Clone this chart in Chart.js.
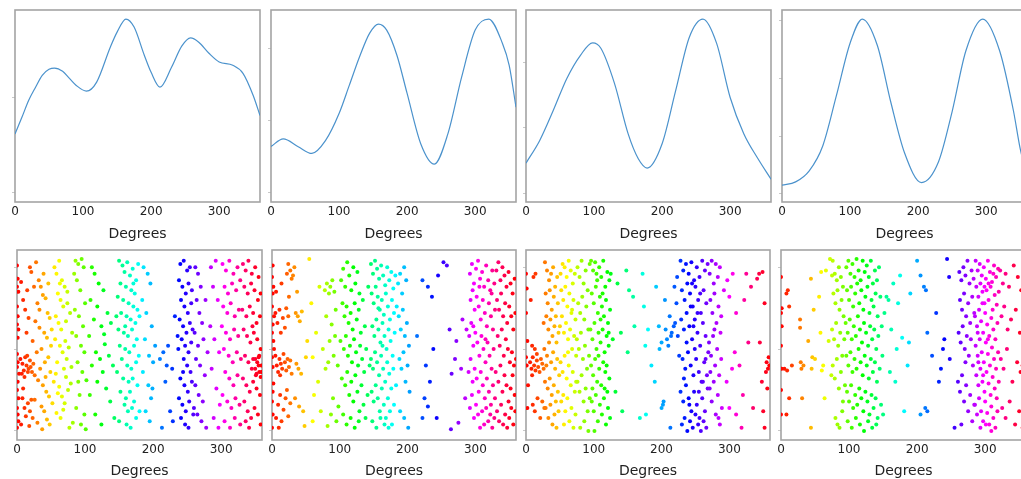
<!DOCTYPE html>
<html><head><meta charset="utf-8">
<script src="https://cdn.jsdelivr.net/npm/chart.js@4.4.0/dist/chart.umd.min.js"></script>
<style>
html,body{margin:0;padding:0;background:#fff;overflow:hidden;width:1021px;height:479px;position:relative;}
canvas{position:absolute;}
</style></head><body>
<script>
// ---------- top row: smoothed density curves (density x 1000) ----------
const kdeDeg1 = [0,10,20,30,40,50,58,70,80,90,105,120,140,150,163,175,190,200,213,230,245,258,270,285,300,320,335,350,360];
const kdeVal1 = [2.618,2.789,2.968,3.105,3.232,3.295,3.308,3.274,3.2,3.126,3.066,3.161,3.526,3.684,3.821,3.737,3.442,3.263,3.108,3.316,3.537,3.624,3.579,3.463,3.372,3.337,3.253,3.021,2.811];
const kdeDeg2 = [0,18,40,60,80,100,115,130,145,158,170,185,200,220,240,260,280,300,320,340,350,360];
const kdeVal2 = [3.286,3.492,3.278,3.092,3.444,4.194,4.972,5.758,6.417,6.667,6.5,5.806,4.75,3.361,2.797,3.639,5.194,6.5,6.806,6.139,5.528,4.369];
const kdeDeg3 = [0,20,40,60,80,98,110,130,150,165,178,200,220,240,260,280,300,320,340,360];
const kdeVal3 = [2.462,2.805,3.266,3.758,4.112,4.302,4.22,3.682,2.912,2.528,2.385,2.758,3.574,4.389,4.666,4.298,3.466,2.912,2.543,2.215];
const kdeDeg4 = [0,20,40,60,80,100,118,140,160,180,205,230,250,270,295,320,340,350,360];
const kdeVal4 = [2.147,2.204,2.396,2.832,3.704,4.611,5.03,4.576,3.582,2.71,2.192,2.553,3.425,4.472,5.03,4.472,3.443,2.78,2.309];

const xTickLabels = [0,100,200,300];
const yTicksTop = [[2,3],[2,4,6],[2,3,4],[2,3,4,5]];
const yTicksBottom = [0,50,100];

// ---------- bottom row: scatter of [degrees, jitter %] ----------
const scatter1 = [
[0,101],[1,93],[0,88],[2,85],[0,76],[1,70],[0,65],[2,62],[1,57],[0,47],[1,42],[0,39],[3,35],[1,30],[0,25],[2,20],[0,14],[1,10],[0,2],[2,6],
[5,44],[7,35],[8,41],[10,37],[12,45],[14,40],[15,46],[17,38],[19,43],[20,39],[22,36],[24,41],[26,34],[11,33],[16,36],
[6,4],[8,20],[11,14],[13,9],[16,17],[18,3],[19,12],[21,19],[23,8],[9,26],
[9,80],[12,74],[14,60],[17,69],[19,100],[21,97],[23,55],[6,91],[15,86],
[28,103],[32,92],[35,88],[38,83],[39,96],[46,90],[30,78],[42,81],[45,72],[48,69],[33,74],[27,67],[33,63],[40,60],[44,57],[51,62],[50,52],[36,50],[29,48],[46,45],[41,42],[34,38],[49,36],[31,31],[38,28],[43,24],[47,21],[26,19],[52,17],[36,15],[40,12],[44,7],[30,5],[48,4],[37,1],[25,88],[42,33],
[55,100],[58,96],[62,104],[66,92],[84,96],[70,88],[74,85],[60,84],[64,80],[68,76],[78,72],[57,70],[72,67],[61,66],[65,62],[81,60],[56,56],[71,55],[63,52],[76,51],[67,48],[73,44],[59,42],[80,39],[69,38],[72,33],[54,30],[79,29],[62,27],[75,25],[60,23],[66,21],[70,17],[68,13],[58,11],[64,8],[82,5],[77,2],[57,35],[74,78],[63,90],
[86,104],[90,102],[95,105],[98,100],[88,92],[93,86],[100,78],[85,74],[91,70],[97,64],[87,58],[94,52],[99,48],[89,42],[96,36],[90,30],[102,31],[92,22],[87,14],[99,10],[94,4],[101,1],
[110,100],[114,96],[120,90],[127,86],[108,80],[118,76],[133,72],[113,68],[124,64],[138,66],[106,58],[128,59],[129,53],[116,48],[135,46],[122,44],[110,40],[141,40],[126,36],[118,30],[131,26],[107,22],[137,18],[115,10],[143,8],[124,4],
[150,104],[155,101],[158,97],[162,103],[166,95],[170,99],[175,92],[178,102],[152,90],[160,88],[168,86],[173,84],[148,82],[156,80],[164,78],[171,76],[177,74],[153,72],[161,70],[167,68],[174,66],[180,70],[149,62],[157,60],[163,58],[169,62],[176,56],[151,52],[159,50],[165,48],[172,52],[179,46],[154,44],[162,40],[168,38],[175,42],[147,36],[156,32],[164,30],[170,32],[177,28],[152,24],[160,20],[166,24],[172,18],[158,16],[163,12],[169,14],[175,8],[150,6],[161,4],[167,2],[180,12],[146,70],[171,90],[159,64],
[186,100],[192,96],[196,90],[184,80],[190,72],[198,64],[188,56],[194,46],[200,42],[185,36],[193,28],[197,20],[189,12],[195,6],[203,52],[199,26],
[210,44],[215,48],[222,52],[213,2],[225,12],[229,6],[220,40],[228,38],[232,70],[218,30],
[240,102],[245,104],[250,98],[254,100],[238,92],[243,88],[248,84],[252,90],[257,86],[241,80],[246,76],[251,72],[256,78],[239,68],[244,64],[249,60],[254,66],[258,62],[242,56],[247,52],[252,48],[237,50],[245,44],[250,40],[255,36],[240,32],[246,28],[251,24],[257,30],[238,20],[243,16],[248,12],[253,18],[241,8],[247,4],[252,2],[259,10],[236,58],[256,54],[244,36],
[262,100],[266,96],[270,88],[264,80],[268,72],[272,66],[261,60],[266,52],[274,56],[263,44],[269,40],[276,34],[262,28],[267,22],[273,18],[265,10],[271,6],[278,2],[280,48],[277,80],[260,14],
[285,100],[292,104],[288,88],[295,80],[284,64],[290,56],[297,48],[286,38],[293,26],[298,16],[289,8],[296,2],
[302,102],[307,98],[312,104],[318,96],[324,100],[305,88],[310,84],[316,90],[322,86],[328,92],[303,76],[309,72],[314,78],[320,70],[326,74],[301,64],[307,60],[313,56],[319,62],[325,58],[304,50],[311,46],[317,42],[323,48],[329,44],[306,36],[312,32],[318,28],[324,34],[302,22],[309,18],[315,14],[321,20],[327,16],[305,6],[313,2],[320,8],[328,4],
[332,102],[336,98],[340,104],[345,96],[350,100],[355,94],[334,88],[339,84],[344,90],[349,86],[354,80],[358,84],[331,74],[337,70],[342,76],[347,72],[352,66],[357,70],[333,62],[338,58],[343,54],[348,60],[353,56],[358,50],[335,46],[340,42],[345,38],[350,44],[355,40],[359,36],[332,32],[337,28],[342,24],[347,30],[352,26],[357,22],[334,18],[339,12],[344,8],[349,14],[354,10],[358,4],[341,2],[336,6],[351,34],[356,46],[346,64],
[350,38],[353,42],[356,36],[359,40],[347,44],[355,45],[358,33],[352,35]
];
const scatter2 = [
[1,101],[0,94],[2,88],[1,84],[0,76],[3,70],[1,65],[0,60],[2,55],[0,45],[1,39],[2,29],[0,18],[1,10],[0,2],[3,50],[1,24],
[5,46],[7,40],[9,36],[11,44],[13,41],[15,38],[17,47],[19,42],[21,37],[23,44],[25,39],[27,43],[29,35],[12,34],
[6,8],[9,16],[12,22],[14,6],[17,13],[20,20],[24,9],[27,17],[10,2],[22,25],
[5,72],[8,66],[11,74],[13,60],[16,69],[19,63],[21,75],[24,70],[6,85],[14,90],[25,82],
[22,96],[24,102],[27,98],[29,93],[31,95],[33,100],
[35,72],[38,70],[41,67],[44,73],[36,41],[39,38],[43,35],[34,20],[40,15],[46,12],[48,3],[50,45],[52,55],[37,85],
[55,105],[58,78],[60,45],[62,22],[65,60],[68,30],[70,88],[72,12],[75,50],[60,6],
[78,86],[81,90],[84,84],[86,88],[89,92],[92,85],[80,70],[88,65],[94,74],[79,38],[83,42],[91,46],[97,40],[82,3],[87,10],[90,20],[95,6],[98,15],[85,55],[93,58],
[102,92],[105,99],[108,88],[111,103],[114,95],[117,86],[120,100],[123,90],[126,97],[129,84],[104,78],[107,70],[110,76],[113,66],[116,72],[119,62],[122,78],[125,68],[128,74],[131,60],[134,80],[101,55],[106,50],[109,58],[112,46],[115,52],[118,42],[121,56],[124,48],[127,40],[130,52],[133,44],[136,36],[139,50],[103,32],[108,28],[111,36],[114,22],[117,30],[120,18],[123,34],[126,24],[129,12],[132,28],[135,16],[138,8],[141,22],[105,10],[110,4],[116,8],[122,2],[128,6],[137,64],[142,88],[144,40],
[146,102],[149,96],[152,104],[155,99],[158,93],[161,101],[164,95],[167,89],[170,100],[173,92],[176,97],[179,87],[147,84],[150,78],[153,88],[156,82],[159,74],[162,80],[165,71],[168,84],[171,76],[174,68],[177,80],[180,72],[148,64],[151,58],[154,68],[157,62],[160,54],[163,66],[166,58],[169,50],[172,62],[175,55],[178,46],[181,60],[146,44],[149,38],[152,48],[155,42],[158,34],[161,46],[164,38],[167,30],[170,42],[173,35],[176,26],[179,38],[147,24],[150,18],[153,28],[156,20],[159,12],[162,26],[165,16],[168,8],[171,20],[174,12],[177,4],[180,16],[148,6],[154,2],[160,8],[166,4],[172,2],[183,28],[184,76],[182,95],[163,52],[157,75],
[186,90],[189,96],[192,84],[195,100],[198,92],[187,70],[190,62],[193,74],[196,58],[199,66],[202,52],[188,44],[191,38],[194,48],[197,30],[200,40],[203,24],[189,12],[195,8],[201,2],
[222,92],[230,88],[236,82],[245,95],[227,40],[233,30],[238,50],[225,20],[230,15],[243,8],[222,8],[214,58],
[253,103],[258,101],[265,35],[262,62],[270,44],[272,55],[281,68],[287,62],[279,38],[285,20],[275,5],[264,1],
[292,96],[295,102],[298,90],[301,99],[304,104],[307,93],[310,97],[313,88],[316,101],[319,92],[322,86],[325,98],[328,90],[293,80],[296,86],[299,74],[302,82],[305,76],[308,68],[311,80],[314,72],[317,64],[320,78],[323,70],[326,62],[329,74],[291,58],[294,66],[297,52],[300,60],[303,54],[306,46],[309,58],[312,50],[315,42],[318,54],[321,46],[324,38],[327,50],[290,36],[293,44],[296,30],[299,38],[302,32],[305,24],[308,36],[311,28],[314,20],[317,32],[320,24],[323,16],[326,28],[329,20],[292,14],[295,22],[298,8],[301,16],[304,10],[307,2],[310,12],[313,4],[316,14],[319,6],[322,10],[325,2],[328,8],[297,64],[306,88],[315,56],[324,84],
[331,98],[334,103],[337,92],[340,100],[343,95],[346,88],[349,97],[352,90],[355,84],[358,93],[332,80],[335,74],[338,84],[341,70],[344,78],[347,66],[350,76],[353,70],[356,62],[359,72],[333,58],[336,52],[339,62],[342,46],[345,56],[348,50],[351,42],[354,48],[357,40],[360,44],[330,36],[334,30],[337,40],[340,24],[343,34],[346,28],[349,18],[352,26],[355,34],[358,22],[332,12],[335,6],[338,16],[341,4],[344,10],[347,2],[350,8],[353,14],[356,4],[359,12]
];
const scatter3 = [
[1,87],[0,72],[2,55],[0,45],[1,40],[3,28],[0,96],[2,14],
[6,42],[8,38],[10,45],[12,40],[14,37],[16,43],[18,39],[20,36],[22,44],[24,41],[26,38],[9,34],[7,80],[9,52],[13,50],[16,47],[11,94],[14,96],[10,16],[13,12],[17,20],[21,8],[24,18],[27,14],
[28,103],[31,98],[34,92],[37,96],[40,100],[43,88],[46,94],[29,84],[32,78],[35,86],[38,74],[41,82],[44,70],[47,78],[26,66],[30,70],[33,62],[36,68],[39,58],[42,64],[45,54],[48,60],[27,50],[31,46],[34,54],[37,42],[40,48],[43,38],[46,44],[49,34],[28,30],[32,26],[35,32],[38,22],[41,28],[44,18],[47,24],[29,14],[33,8],[36,16],[39,4],[42,10],[45,2],[48,12],[30,40],
[51,96],[54,102],[57,100],[60,94],[63,104],[66,98],[69,90],[72,96],[52,86],[55,80],[58,88],[61,76],[64,84],[67,72],[70,80],[73,68],[50,64],[53,70],[56,60],[59,66],[62,56],[65,62],[68,50],[71,58],[74,46],[51,42],[54,36],[57,46],[60,32],[63,40],[66,28],[69,36],[72,24],[52,18],[55,22],[58,12],[61,20],[64,6],[67,14],[70,2],[73,10],[56,4],[62,48],[68,74],[74,30],
[76,100],[79,94],[82,104],[85,90],[88,98],[91,86],[94,102],[77,78],[80,72],[83,82],[86,68],[89,76],[92,62],[75,56],[78,50],[81,60],[84,44],[87,52],[90,38],[93,46],[76,30],[79,24],[82,34],[85,18],[88,26],[91,12],[94,20],[80,2],[86,6],[92,0],
[96,104],[99,98],[102,103],[105,92],[108,100],[111,94],[114,104],[117,88],[120,97],[123,92],[97,84],[100,78],[103,88],[106,72],[109,82],[112,76],[115,70],[118,80],[121,66],[124,74],[95,62],[98,56],[101,66],[104,50],[107,60],[110,54],[113,62],[116,48],[119,58],[122,52],[96,40],[99,34],[102,44],[105,30],[108,38],[111,28],[114,42],[117,36],[120,24],[123,32],[97,18],[100,12],[103,22],[106,6],[109,16],[112,10],[115,20],[118,4],[121,14],[124,8],[101,0],[107,46],[113,84],[119,40],[125,96],[110,68],[104,96],[116,26],[122,60],[98,26],
[128,56],[132,24],[135,90],[140,60],[142,12],[148,98],[150,48],[152,86],[158,82],[160,64],[168,8],[172,96],[174,76],[176,52],[177,10],[180,62],[185,40],[190,30],[192,88],[197,50],[200,54],[203,18],[205,80],[210,52],[214,58],
[196,64],[200,14],[202,16],[206,62],[208,56],[212,70],[215,60],[218,64],[220,66],[222,78],[224,58],[226,46],[213,2],[219,88],[223,94],
[228,104],[232,98],[236,102],[240,96],[244,103],[248,92],[252,100],[256,94],[260,104],[264,98],[268,102],[230,86],[234,80],[238,90],[242,84],[246,76],[250,88],[254,80],[258,72],[262,86],[266,78],[229,68],[233,62],[237,72],[241,64],[245,56],[249,68],[253,60],[257,52],[261,66],[265,58],[269,48],[231,44],[235,38],[239,48],[243,40],[247,34],[251,44],[255,36],[259,30],[263,42],[267,34],[228,24],[232,18],[236,28],[240,20],[244,12],[248,24],[252,16],[256,8],[260,20],[264,12],[268,26],[230,4],[234,8],[238,0],[242,6],[246,2],[250,10],[254,4],[258,0],[262,6],[266,2],[237,54],[245,90],[253,72],[261,30],[249,50],[241,16],[257,84],[265,44],[233,32],[247,64],[255,24],[243,76],
[271,96],[274,104],[277,90],[280,102],[283,94],[286,100],[272,80],[275,72],[278,84],[281,66],[284,76],[287,60],[270,54],[273,46],[276,58],[279,40],[282,50],[285,34],[288,44],[271,26],[274,18],[277,30],[280,10],[283,22],[286,4],[289,14],[272,36],[278,62],[284,8],[288,70],
[292,86],[297,92],[300,82],[305,96],[310,72],[296,30],[300,14],[304,38],[308,48],[310,10],[315,40],[320,22],[325,96],[322,80],[328,54],[332,88],[318,2],[335,14],
[341,93],[344,96],[349,97],[345,54],[352,78],[348,30],[352,2],[355,42],[357,38],[358,45],[359,40],[354,36],[356,26],[350,12]
];
const scatter4 = [
[0,94],[1,75],[0,72],[1,64],[0,52],[1,38],[0,25],[0,10],
[8,84],[10,86],[12,76],[5,38],[9,37],[16,40],[28,68],[28,63],[29,42],[30,38],[33,40],[44,93],[44,2],[48,74],[46,45],[45,38],[50,44],[58,60],[59,97],[60,37],[62,40],[64,20],[66,98],[70,55],[72,105],[74,34],[75,95],[12,20],[8,10],[31,20],[56,82],[40,55],
[76,104],[79,96],[82,92],[85,100],[88,94],[91,88],[77,84],[80,78],[83,86],[86,74],[89,80],[92,70],[75,62],[78,56],[81,66],[84,52],[87,60],[90,46],[93,56],[76,40],[79,32],[82,44],[85,26],[88,36],[91,18],[94,28],[80,8],[86,2],[90,12],[83,4],
[96,100],[99,104],[102,96],[105,102],[108,94],[111,105],[114,98],[117,92],[120,104],[123,97],[126,101],[129,94],[132,104],[135,90],[138,98],[141,92],[144,100],
[97,86],[100,80],[103,88],[106,76],[109,84],[112,90],[115,78],[118,86],[121,74],[124,82],[127,88],[130,72],[133,80],[136,76],[139,84],[142,70],[146,82],
[95,66],[98,60],[101,68],[104,56],[107,64],[110,58],[113,70],[116,62],[119,54],[122,66],[125,60],[128,52],[131,64],[134,56],[137,62],[140,50],[143,58],[148,64],
[96,46],[99,40],[102,48],[105,36],[108,44],[111,38],[114,50],[117,42],[120,34],[123,46],[126,40],[129,32],[132,44],[135,36],[138,42],[141,30],[145,38],[149,46],
[97,24],[100,18],[103,28],[106,14],[109,22],[112,16],[115,26],[118,20],[121,12],[124,24],[127,18],[130,10],[133,22],[136,14],[139,20],[142,8],[147,16],
[98,6],[104,2],[110,8],[116,4],[122,0],[128,6],[134,2],[140,4],[150,10],
[152,72],[155,82],[158,80],[160,36],[162,62],[165,90],[168,30],[170,50],[172,78],[175,95],[178,57],[181,12],[186,40],[188,54],[190,84],
[200,104],[205,95],[210,88],[213,86],[215,60],[222,46],[228,72],[232,30],[235,38],[238,50],[240,56],[244,105],[248,44],[255,2],[205,10],[212,14],[215,12],[247,94],
[262,97],[265,92],[268,100],[271,95],[274,104],[277,90],[280,98],[283,93],[263,80],[266,74],[269,84],[272,70],[275,78],[278,66],[281,82],[284,72],[261,60],[264,54],[267,64],[270,50],[273,58],[276,46],[279,56],[282,40],[260,30],[263,24],[266,34],[269,18],[272,28],[275,12],[278,22],[281,6],[284,16],[265,4],[271,42],
[286,104],[289,98],[292,102],[295,95],[298,100],[301,93],[304,104],[307,97],[310,91],[313,101],[316,94],[319,99],
[287,88],[290,82],[293,90],[296,85],[299,78],[302,86],[305,80],[308,88],[311,74],[314,83],[317,77],[320,85],
[285,70],[288,64],[291,74],[294,67],[297,60],[300,72],[303,65],[306,58],[309,69],[312,62],[315,56],[318,66],
[286,52],[289,46],[292,56],[295,48],[298,42],[301,54],[304,47],[307,40],[310,51],[313,44],[316,38],[319,48],
[287,34],[290,28],[293,38],[296,30],[299,24],[302,36],[305,29],[308,22],[311,33],[314,26],[317,20],[320,30],
[285,16],[288,10],[291,20],[294,12],[297,6],[300,18],[303,11],[306,4],[309,15],[312,8],[315,2],[318,12],
[289,60],[297,34],[305,90],[293,2],[301,4],[309,0],[296,78],[304,56],[312,96],[290,42],[299,88],
[322,98],[326,90],[330,96],[335,88],[342,101],[348,94],[353,86],[358,97],[324,70],[328,76],[333,62],[338,68],[345,74],[351,60],[356,66],[323,44],[327,38],[332,50],[340,30],[347,42],[352,36],[355,40],[358,33],[325,14],[330,8],[336,18],[344,4],[350,12],[355,2],[359,24]
];

// ---------- layout ----------
const YW = 10, PAD = 3;
const topPanels = [
  {left:15, width:245, ymin:1.905, ymax:3.916},
  {left:271, width:245, ymin:1.75, ymax:7.056},
  {left:526, width:245, ymin:1.866, ymax:4.805},
  {left:782, width:245, ymin:1.855, ymax:5.187}
];
const bottomPanels = [
  {left:17, width:245},
  {left:272, width:244},
  {left:526, width:244},
  {left:781, width:245}
];
const TOP_Y = 10, TOP_H = 192, TOP_XH = 41, BOT_Y = 250, BOT_H = 190, BOT_XH = 40;

const framePlugin = {
  id: 'frame',
  beforeDatasetsDraw(chart) {
    const {ctx, chartArea: a} = chart;
    ctx.save();
    ctx.strokeStyle = '#a4a4a4';
    ctx.lineWidth = 1.6;
    ctx.strokeRect(a.left, a.top, a.right - a.left, a.bottom - a.top);
    ctx.restore();
  }
};

function makeCanvas(left, top, w, h) {
  const c = document.createElement('canvas');
  c.width = w; c.height = h;
  c.style.left = left + 'px'; c.style.top = top + 'px';
  c.style.width = w + 'px'; c.style.height = h + 'px';
  document.body.appendChild(c);
  return c;
}

function scalesFor(ymin, ymax, yticks, xh) {
  return {
    x: {
      type: 'linear', min: 0, max: 360,
      afterBuildTicks: s => { s.ticks = xTickLabels.map(v => ({value: v})); },
      afterFit: s => { s.height = xh; },
      grid: {display: false, drawTicks: false},
      border: {display: false},
      ticks: {color: '#222', font: {family: 'DejaVu Sans', size: 12}, padding: 3, maxRotation: 0, autoSkip: false},
      title: {display: true, text: 'Degrees', color: '#222', font: {family: 'DejaVu Sans', size: 14}, padding: {top: 0, bottom: 0}}
    },
    y: {
      type: 'linear', min: ymin, max: ymax,
      afterBuildTicks: s => { s.ticks = yticks.map(v => ({value: v})); },
      afterFit: s => { s.width = YW; },
      ticks: {display: false},
      grid: {display: true, drawOnChartArea: false, drawTicks: true, tickLength: 3, color: '#c8c8c8', lineWidth: 1},
      border: {display: false}
    }
  };
}

const commonOpts = {
  responsive: false, animation: false, events: [],
  layout: {padding: {top: PAD, right: PAD, left: 0, bottom: 0}, autoPadding: false},
  plugins: {legend: {display: false}, tooltip: {enabled: false}}
};

const kdeDegs = [kdeDeg1, kdeDeg2, kdeDeg3, kdeDeg4];
const kdeVals = [kdeVal1, kdeVal2, kdeVal3, kdeVal4];
topPanels.forEach((p, i) => {
  const c = makeCanvas(p.left - YW, TOP_Y - PAD, YW + p.width + PAD, PAD + TOP_H + TOP_XH);
  new Chart(c, {
    type: 'line',
    data: {datasets: [{
      data: kdeDegs[i].map((d, k) => ({x: d, y: kdeVals[i][k]})),
      borderColor: '#4b92cc', borderWidth: 1.2, pointRadius: 0,
      cubicInterpolationMode: 'monotone', fill: false
    }]},
    options: Object.assign({}, commonOpts, {scales: scalesFor(p.ymin, p.ymax, yTicksTop[i], TOP_XH)}),
    plugins: [framePlugin]
  });
});

const scatters = [scatter1, scatter2, scatter3, scatter4];
bottomPanels.forEach((p, i) => {
  const c = makeCanvas(p.left - YW, BOT_Y - PAD, YW + p.width + PAD, PAD + BOT_H + BOT_XH);
  new Chart(c, {
    type: 'scatter',
    data: {datasets: [{
      data: scatters[i].map(d => ({x: d[0], y: d[1]})),
      pointRadius: 2, borderWidth: 0,
      pointBackgroundColor: ctx => 'hsl(' + ((ctx.raw ? ctx.raw.x : 0) % 360) + ',100%,50%)'
    }]},
    options: Object.assign({}, commonOpts, {scales: scalesFor(-5.5, 110.5, yTicksBottom, BOT_XH)}),
    plugins: [framePlugin]
  });
});
</script>
</body></html>
